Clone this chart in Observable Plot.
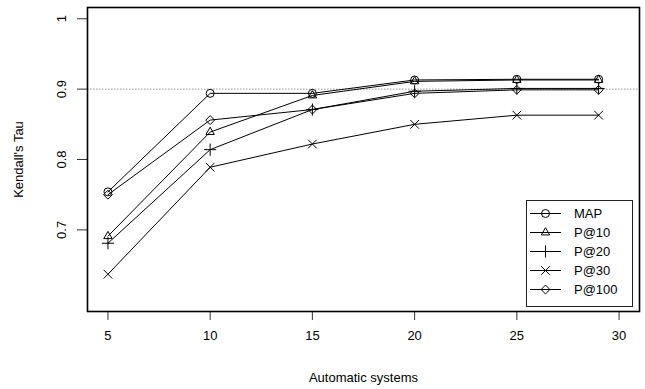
<!DOCTYPE html>
<html>
<head>
<meta charset="utf-8">
<script src="https://cdn.jsdelivr.net/npm/d3@7"></script>
<script src="https://cdn.jsdelivr.net/npm/@observablehq/plot@0.6"></script>
<style>
  html, body { margin: 0; padding: 0; background: white; }
  #wrap { position: relative; width: 645px; height: 389px; font-family: "Liberation Sans", Arial, sans-serif; }
  #legend { position: absolute; left: 526px; top: 200px; width: 107px; height: 107px; border: 1px solid #222; background: white; box-sizing: border-box; }
  .row { position: absolute; left: 0; height: 19px; display: flex; align-items: center; font-size: 13px; color: black; }
  .row svg { display: block; margin-left: 3px; margin-right: 13px; }
</style>
</head>
<body>
<div id="wrap"><div id="legend"></div></div>
<script>
const xs = [5, 10, 15, 20, 25, 29];
const series = ["MAP", "P@10", "P@20", "P@30", "P@100"];
const mapVals   = [0.754, 0.894, 0.894, 0.913, 0.914, 0.914];
const p10Vals   = [0.691, 0.839, 0.891, 0.911, 0.913, 0.913];
const p20Vals   = [0.681, 0.814, 0.871, 0.897, 0.901, 0.901];
const p30Vals   = [0.637, 0.789, 0.822, 0.850, 0.863, 0.863];
const p100Vals  = [0.750, 0.856, 0.871, 0.894, 0.899, 0.899];
const symbols = ["circle", "triangle2", "plus", "times", "diamond2"];
const xTicks = [5, 10, 15, 20, 25, 30];
const yTicks = [0.7, 0.8, 0.9, 1];
const yTickLabels = ["0.7", "0.8", "0.9", "1"];
const refLine = [0.9];

const valuesBySeries = [mapVals, p10Vals, p20Vals, p30Vals, p100Vals];
const data = series.flatMap((s, i) => xs.map((x, j) => ({series: s, x, y: valuesBySeries[i][j]})));

const chart = Plot.plot({
  width: 645,
  height: 389,
  marginLeft: 87,
  marginRight: 6,
  marginTop: 7,
  marginBottom: 78,
  x: {domain: [4, 31]},
  y: {domain: [0.584, 1.016]},
  symbol: {domain: series, range: symbols},
  style: {fontFamily: "Liberation Sans, Arial, sans-serif", fontSize: "13px", color: "black", background: "white"},
  marks: [
    Plot.ruleY(refLine, {stroke: "#999", strokeDasharray: "1.5,1.5", strokeWidth: 1}),
    Plot.axisX({ticks: xTicks, tickSize: 9, tickPadding: 10, label: "Automatic systems", labelAnchor: "center", labelOffset: 70, labelArrow: "none", stroke: "#333"}),
    Plot.axisY({ticks: yTicks, tickSize: 10, tickPadding: 12, tickRotate: -90, tickFormat: (d) => yTickLabels[yTicks.indexOf(d)], label: "Kendall's Tau", labelAnchor: "center", labelOffset: 74, labelArrow: "none", stroke: "#333"}),
    Plot.line(data, {x: "x", y: "y", z: "series", stroke: "black", strokeWidth: 1}),
    Plot.dot(data, {x: "x", y: "y", symbol: "series", stroke: "black", fill: "none", r: 4, strokeWidth: 1}),
    Plot.frame({stroke: "black", strokeWidth: 1.6})
  ]
});
document.getElementById("wrap").prepend(chart);

// Legend
const legend = d3.select("#legend");
series.forEach((s, i) => {
  const row = legend.append("div").attr("class", "row").style("top", (2.5 + i * 19) + "px");
  const svg = row.append("svg").attr("width", 31).attr("height", 19);
  svg.append("line").attr("x1", 0).attr("x2", 31).attr("y1", 9.5).attr("y2", 9.5).attr("stroke", "black").attr("stroke-width", 1);
  const symMap = {circle: d3.symbolCircle, triangle2: d3.symbolTriangle2, plus: d3.symbolPlus, times: d3.symbolTimes, diamond2: d3.symbolDiamond2};
  svg.append("path").attr("transform", "translate(15.5,9.5)")
    .attr("d", d3.symbol(symMap[symbols[i]], 16 * Math.PI)())
    .attr("fill", "none").attr("stroke", "black").attr("stroke-width", 1);
  row.append("span").text(s);
});
</script>
</body>
</html>
